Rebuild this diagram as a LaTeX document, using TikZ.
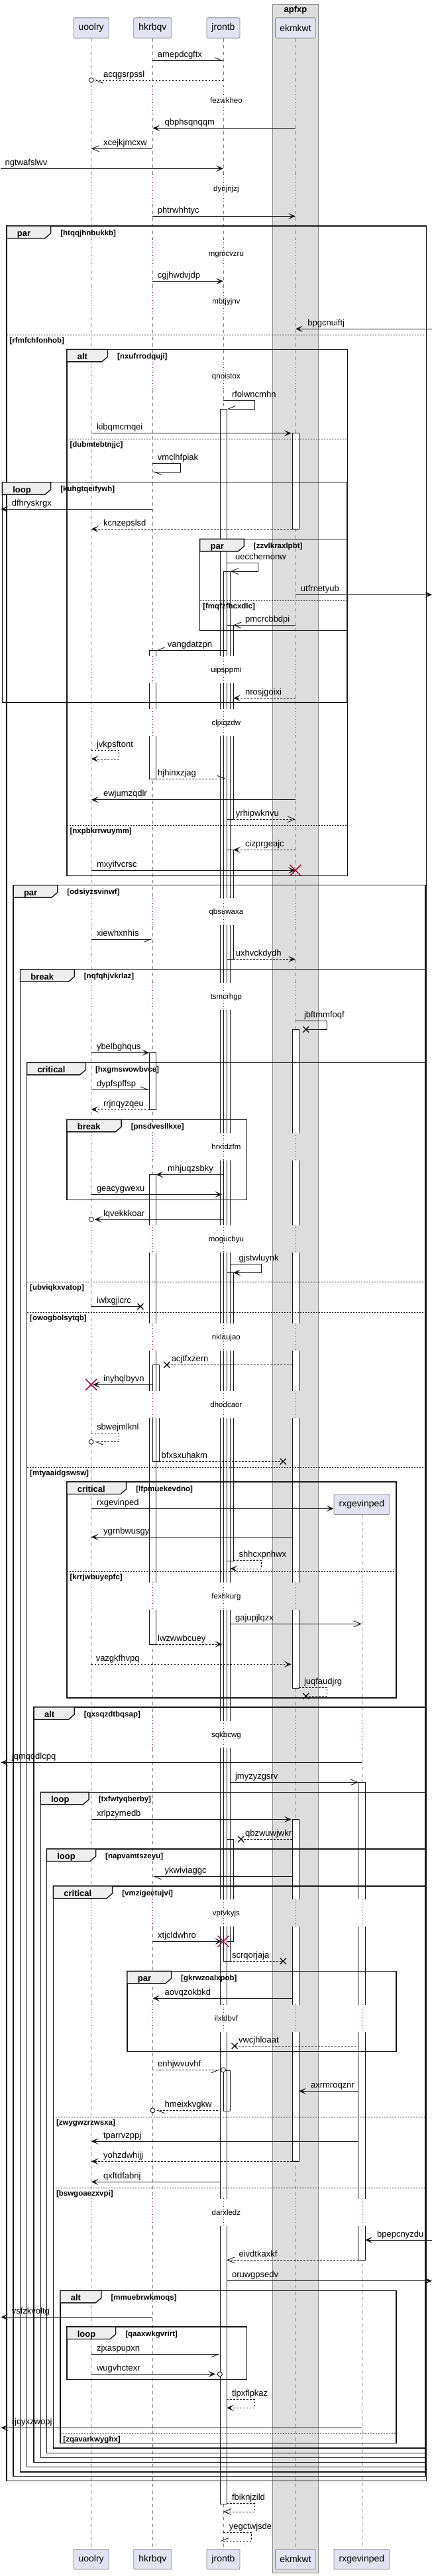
\documentclass[tikz,border=0pt]{standalone}
\usepackage{fontspec}
\setmainfont{Liberation Sans}
\usetikzlibrary{calc, positioning, arrows.meta}

\definecolor{partfill}{HTML}{E2E2F0}
\definecolor{partline}{HTML}{8A8A8A}
\definecolor{boxgrey}{HTML}{DDDDDD}
\definecolor{boxline}{HTML}{8C8C8C}
\definecolor{tabgrey}{HTML}{EEEEEE}
\definecolor{lifegrey}{HTML}{808080}
\definecolor{killred}{HTML}{A80036}
\definecolor{ink}{HTML}{181818}

\tikzset{
  part/.style={draw=partline, fill=partfill, rounded corners=2pt, line width=0.8pt,
    minimum height=30.5pt, inner sep=0pt, font=\fontsize{14}{16}\selectfont},
  boxtitle/.style={inner sep=0pt, font=\bfseries\fontsize{13}{15}\selectfont},
  lifeline/.style={draw=lifegrey, line width=0.7pt, dash pattern=on 5pt off 5pt},
  delayline/.style={draw=killred, line width=0.8pt, dash pattern=on 1pt off 3pt},
  actbar/.style={draw=ink, line width=0.8pt},
  frameline/.style={draw=ink, line width=1.4pt},
  tabshape/.style={draw=ink, fill=tabgrey, line width=1.4pt},
  kindtext/.style={anchor=base west, inner sep=0pt, font=\bfseries\fontsize{13}{15}\selectfont},
  guardtext/.style={anchor=base west, inner sep=0pt, font=\bfseries\fontsize{11.5}{13}\selectfont},
  elseline/.style={draw=ink, line width=0.8pt, dash pattern=on 2pt off 2pt},
  msgline/.style={draw=ink, line width=0.9pt},
  retline/.style={dash pattern=on 2.5pt off 2.5pt},
  msgtext/.style={anchor=base west, inner sep=0pt, font=\fontsize{13}{15}\selectfont},
  delaytext/.style={anchor=base, inner sep=0pt, font=\fontsize{11.5}{13}\selectfont},
  fulltip/.style={-{Stealth[length=11pt,width=9.5pt,inset=5.5pt]}},
  opentip/.style={-{Straight Barb[length=11pt,width=9pt]}},
  halftip/.style={-{Straight Barb[length=11pt,width=9pt,harpoon]}},
  halftipb/.style={-{Straight Barb[length=11pt,width=9pt,harpoon,swap]}},
  killx/.style={draw=killred, line width=1.5pt},
  lostx/.style={draw=ink, line width=1.4pt},
  endring/.style={draw=ink, fill=white, line width=0.9pt}
}

% message: [style]{from}{dx}{to}{dx}{y}{label}{label x}
\newcommand\sdmsg[8][]{%
  \draw[msgline,#1] ($(#2)+(#3,#6)$) -- ($(#4)+(#5,#6)$);
  \node[msgtext] (m-#7) at (#8,#6-5) {#7};}
% self message: [style]{who}{dx start}{dx right}{y1}{y2}{dx end}{label}{label x}
\newcommand\sdself[9][]{%
  \draw[msgline,#1] ($(#2)+(#3,#5)$) -- ($(#2)+(#4,#5)$) -- ($(#2)+(#4,#6)$) -- ($(#2)+(#7,#6)$);
  \node[msgtext] (m-#8) at (#9,#5-5) {#8};}
\newcommand\sdring[3]{\draw[endring] ($(#1)+(#2,#3)$) circle[radius=3.5pt];}
\newcommand\sdlost[3]{\draw[lostx] ($(#1)+(#2,#3)$) +(-4.5pt,-4.5pt) -- +(4.5pt,4.5pt) +(-4.5pt,4.5pt) -- +(4.5pt,-4.5pt);}
\newcommand\sdkill[2]{\draw[killx] ($(#1)+(0,#2)$) +(-8.5pt,-8.5pt) -- +(8.5pt,8.5pt) +(-8.5pt,8.5pt) -- +(8.5pt,-8.5pt);}
% delay: [lifelines]{y}{text}
\newcommand\sddelay[3][uo,hk,jr,ek]{%
  \foreach \p in {#1}
    \draw[delayline] ($(\p)+(0,#2-21)$) -- ($(\p)+(0,#2+21)$);
  \node[delaytext] (d-#3) at ($(jr)+(3.5,#2+4)$) {#3};}
% frame: {x1}{x2}{y1}{y2}{kind}{tab width}{guard}
\newcommand\sdframe[7]{%
  \draw[frameline] (#1,#3) rectangle (#2,#4);
  \draw[tabshape] (#1,#3) -- ++(#6,0) -- ++(0,11) -- ++(-7,7.5) -- (#1,#3+18.5) -- cycle;
  \node[kindtext] (k-#7) at (#1+12.5,#3+15.5) {#5};
  \node[guardtext] (g-#7) at (#1+#6+11.5,#3+14) {[#7]};}
\newcommand\sdelse[4]{%
  \draw[elseline] (#1,#3) -- (#2,#3);
  \node[guardtext] (g-#4) at (#1+3.5,#3+12) {[#4]};}

\def\barlist{jr/-4/617/3778.3, jr/0/862/2959.3, jr/4/943.3/1236.3, jr/4/1282.3/1447.3,
  jr/4/1920.3/2355, jr/4/2775.3/2929.3, jr/0/3124.3/3185.3,
  hk/-4/981.3/1175, hk/-4/1588.3/1674, hk/-4/1772.3/2481, hk/0/2059.3/2205.3,
  ek/-4/653.7/798.3, ek/-4/1553.3/2547, ek/-4/2745.3/3261.3, rx/-4/2689.3/3410.3}
% stretches of the lifelines between two delays
\def\spanlist{0/130, 172/263.3, 305.3/361.3, 403.3/433.3, 475.3/546.3, 588.3/989.7,
  1031.7/1069, 1111/1354.7, 1396.7/1482.3, 1524.3/1709, 1751/1848.3, 1890.3/1996.3,
  2038.3/2098.3, 2140.3/2387.3, 2429.3/2596.3, 2638.3/2865.7, 2907.7/3024,
  3066/3317.3, 3359.3/3887}

\begin{document}
\begin{tikzpicture}[x=1.25699pt, y=-1pt]
  \useasboundingbox (0,0) rectangle (518.7,3887);
  \coordinate (lft) at (1,0);
  \coordinate (uo) at (109.5,0);
  \coordinate (hk) at (183.3,0);
  \coordinate (jr) at (268.1,0);
  \coordinate (ek) at (354.8,0);
  \coordinate (rx) at (434.3,0);
  \coordinate (rgt) at (518.7,0);

  % box apfxp
  \draw[fill=boxgrey, draw=boxline, line width=0.9pt] (327.3,6) rectangle (382,3882);
  \node[boxtitle] (apfxp) at (354.8,15.5) {apfxp};

  % participants
  \node[part, minimum width=53.2pt] (uoolry-top) at ($(uo)+(0,42.1)$) {uoolry};
  \node[part, minimum width=57.3pt] (hkrbqv-top) at ($(hk)+(0,42.1)$) {hkrbqv};
  \node[part, minimum width=49.9pt] (jrontb-top) at ($(jr)+(0,42.1)$) {jrontb};
  \node[part, minimum width=60.7pt] (ekmkwt-top) at ($(ek)+(0,42.1)$) {ekmkwt};
  \node[part, minimum width=83.8pt] (rxgevinped-top) at ($(rx)+(0,2270.3)$) {rxgevinped};
  \node[part, minimum width=53.2pt] (uoolry-bot) at ($(uo)+(0,3861.7)$) {uoolry};
  \node[part, minimum width=57.3pt] (hkrbqv-bot) at ($(hk)+(0,3861.7)$) {hkrbqv};
  \node[part, minimum width=49.9pt] (jrontb-bot) at ($(jr)+(0,3861.7)$) {jrontb};
  \node[part, minimum width=60.7pt] (ekmkwt-bot) at ($(ek)+(0,3861.7)$) {ekmkwt};
  \node[part, minimum width=83.8pt] (rxgevinped-bot) at ($(rx)+(0,3861.7)$) {rxgevinped};

  % lifelines and activation bars, broken at the delays
  \foreach \ya/\yb in \spanlist {
    \begin{scope}
      \clip (0,\ya) rectangle (518.7,\yb);
      \foreach \n in {uoolry,hkrbqv,jrontb,ekmkwt,rxgevinped}
        \draw[lifeline] (\n-top) -- (\n-bot);
      \foreach \p/\dx/\yc/\yd in \barlist
        \fill[white] ($(\p)+(\dx,\yc)$) rectangle ($(\p)+(\dx+8,\yd)$);
      \foreach \p/\dx/\yc/\yd in \barlist
        \draw[actbar] ($(\p)+(\dx,\yc)$) rectangle ($(\p)+(\dx+8,\yd)$);
    \end{scope}
  }

  % delays
  \sddelay{151}{fezwkheo}
  \sddelay{284.3}{dynjnjzj}
  \sddelay{382.3}{mgmcvzru}
  \sddelay{454.3}{mbtjyjnv}
  \sddelay{567.3}{qnoistox}
  \sddelay{1010.7}{uipsppmi}
  \sddelay{1090}{cljxqzdw}
  \sddelay{1375.7}{qbsuwaxa}
  \sddelay{1503.3}{tsmcrhgp}
  \sddelay{1730}{hrxtdzfm}
  \sddelay{1869.3}{mogucbyu}
  \sddelay{2017.3}{nklaujao}
  \sddelay{2119.3}{dhodcaor}
  \sddelay[uo,hk,jr,ek,rx]{2408.3}{fexhkurg}
  \sddelay[uo,hk,jr,ek,rx]{2617.3}{sqkbcwg}
  \sddelay[uo,hk,jr,ek,rx]{2886.7}{vptvkyjs}
  \sddelay[uo,hk,jr,ek,rx]{3045}{ilxldbvf}
  \sddelay[uo,hk,jr,ek,rx]{3338.3}{darxledz}

  % frames
  \sdframe{8}{511.7}{341}{3743.3}{par}{53}{htqqjhnbukkb}
  \sdelse{8}{511.7}{505}{rfmfchfonhob}
  \sdframe{80.3}{417.3}{527.3}{1321.3}{alt}{49}{nxufrrodquji}
  \sdelse{80.3}{417.3}{662.3}{dubmtebtnjjc}
  \sdelse{80.3}{417.3}{1245.3}{nxpbkrrwuymm}
  \sdframe{2.7}{417}{727.7}{1060}{loop}{58.3}{kuhgtqeifywh}
  \sdframe{240}{417}{813.3}{951.7}{par}{53}{zzvlkraxlpbt}
  \sdelse{240}{417}{906.3}{fmqfzfhcxdlc}
  \sdframe{16}{510.7}{1335.7}{3736.7}{par}{53}{odsiyzsvinwf}
  \sdframe{24.3}{510.7}{1462.7}{3730}{break}{65}{nqfqhjvkrlaz}
  \sdframe{32.3}{510.7}{1603.3}{3722.7}{critical}{70.7}{hxgmswowbvce}
  \sdelse{32.3}{510.7}{1934.3}{ubviqkxvatop}
  \sdelse{32.3}{510.7}{1980.3}{owogbolsytqb}
  \sdelse{32.3}{510.7}{2214.3}{mtyaaidgswsw}
  \sdframe{80.3}{296.3}{1689.3}{1810.3}{break}{65.4}{pnsdvesllkxe}
  \sdframe{80.3}{475.7}{2236}{2562}{critical}{71.4}{lfpmuekevdno}
  \sdelse{80.3}{475.7}{2371.3}{krrjwbuyepfc}
  \sdframe{40.7}{510.7}{2576}{3715.7}{alt}{48.6}{qxsqzdtbqsap}
  \sdframe{48.7}{510.7}{2704.3}{3708.3}{loop}{58}{txfwtyqberby}
  \sdframe{56}{510.7}{2790}{3701.7}{loop}{59}{napvamtszeyu}
  \sdframe{64}{510.7}{2846}{3694}{critical}{71}{vmzigeetujvi}
  \sdelse{64}{510.7}{3194}{zwygwzrzwsxa}
  \sdelse{64}{510.7}{3301.3}{bswgoaezxvpi}
  \sdframe{152.7}{475.7}{2974.3}{3095.3}{par}{53}{gkrwzoalxpob}
  \sdframe{72.3}{475.7}{3456.3}{3686.7}{alt}{49.4}{mmuebrwkmoqs}
  \sdelse{72.3}{475.7}{3672.3}{zqavarkwyghx}
  \sdframe{80.3}{296.3}{3511}{3590.3}{loop}{58.7}{qaaxwkgvrirt}

  % messages
  \sdmsg[halftip]{hk}{0}{jr}{0}{91.3}{amepdcgftx}{189}
  \sdmsg[retline,halftip]{jr}{0}{uo}{4}{121}{acqgsrpssl}{124}
  \sdring{uo}{0}{121}
  \sdmsg[fulltip]{ek}{0}{hk}{0}{193.3}{qbphsqnqqm}{197.7}
  \sdmsg[opentip]{hk}{0}{uo}{0}{224.3}{xcejkjmcxw}{124}
  \sdmsg[fulltip]{lft}{0}{jr}{0}{254.3}{ngtwafslwv}{6}
  \sdmsg[fulltip]{hk}{0}{ek}{0}{326.3}{phtrwhhtyc}{189}
  \sdmsg[fulltip]{hk}{0}{jr}{0}{424.3}{cgjhwdvjdp}{189}
  \sdmsg[fulltip]{rgt}{0}{ek}{0}{496.3}{bpgcnuiftj}{369.3}
  \sdself[halftipb]{jr}{0}{37.7}{604.3}{617}{4}{rfolwncmhn}{278.3}
  \sdmsg[fulltip]{uo}{0}{ek}{-5}{653.7}{kibqmcmqei}{116}
  \sdself[halftip]{hk}{0}{33.7}{699.7}{712}{0}{vmclhfpiak}{189}
  \sdmsg[fulltip]{hk}{0}{lft}{0}{768.3}{dfhryskrgx}{14}
  \sdmsg[retline,fulltip]{ek}{-4}{uo}{0}{798.3}{kcnzepslsd}{124}
  \sdself[opentip]{jr}{4}{41.6}{849.3}{862}{8.6}{uecchemonw}{282.3}
  \sdmsg[fulltip]{ek}{0}{rgt}{0}{897.3}{utfrnetyub}{361}
  \sdmsg[opentip]{ek}{0}{jr}{12}{943.3}{pmcrcbbdpi}{294.3}
  \sdmsg[halftipb]{jr}{4}{hk}{4}{981.3}{vangdatzpn}{201}
  \sdmsg[retline,fulltip]{ek}{0}{jr}{12}{1053.3}{nrosjgoixi}{294.3}
  \sdself[retline,fulltip]{uo}{0}{33.5}{1132.3}{1145}{0}{jvkpsftont}{116}
  \sdmsg[retline,halftip]{hk}{4}{jr}{3.6}{1175}{hjhinxzjag}{189.3}
  \sdmsg[fulltip]{ek}{0}{uo}{0}{1206.7}{ewjumzqdlr}{124}
  \sdmsg[retline,opentip]{jr}{12}{ek}{0}{1236.3}{yrhipwknvu}{283}
  \sdmsg[retline,fulltip]{ek}{0}{jr}{12}{1282.3}{cizprgeajc}{294.3}
  \sdmsg[fulltip]{uo}{0}{ek}{0}{1313.3}{mxyifvcrsc}{116}
  \sdkill{ek}{1313.3}
  \sdmsg[halftipb]{uo}{0}{hk}{0}{1417}{xiewhxnhis}{116}
  \sdmsg[retline,fulltip]{jr}{12}{ek}{0}{1447.3}{uxhvckdydh}{283}
  \sdself[]{ek}{0}{37.5}{1540.3}{1553.3}{12.5}{jbftmmfoqf}{365}
  \sdlost{ek}{12.5}{1553.3}
  \sdmsg[fulltip]{uo}{0}{hk}{-4}{1588.3}{ybelbghqus}{116}
  \sdmsg[halftip]{uo}{0}{hk}{-4}{1644.3}{dypfspffsp}{116}
  \sdmsg[retline,fulltip]{hk}{-4}{uo}{0}{1674}{rrjnqyzqeu}{124}
  \sdmsg[fulltip]{jr}{0}{hk}{4}{1772.3}{mhjuqzsbky}{201.3}
  \sdmsg[fulltip]{uo}{0}{jr}{-1.3}{1802.3}{geacygwexu}{116}
  \sdmsg[fulltip]{jr}{0}{uo}{4}{1840}{lqvekkkoar}{124}
  \sdring{uo}{0}{1840}
  \sdself[fulltip]{jr}{8.3}{45.6}{1907.7}{1920.3}{12}{gjstwluynk}{286.7}
  \sdmsg[]{uo}{0}{hk}{-14.6}{1971.3}{iwlxgjicrc}{116}
  \sdlost{hk}{-14.6}{1971.3}
  \sdmsg[retline]{ek}{-4}{hk}{17}{2059.3}{acjtfxzern}{205.7}
  \sdlost{hk}{17}{2059.3}
  \sdmsg[fulltip]{hk}{0}{uo}{2}{2089.3}{inyhqlbyvn}{124}
  \sdkill{uo}{2089.3}
  \sdself[retline,halftip]{uo}{0}{33.5}{2162.7}{2175.7}{4}{sbwejmlknl}{116}
  \sdring{uo}{0}{2175.7}
  \sdmsg[retline]{hk}{8}{ek}{-14.8}{2205.3}{bfxsxuhakm}{193.7}
  \sdlost{ek}{-14.8}{2205.3}
  \draw[msgline,fulltip] ($(uo)+(0,2276.3)$) -- (rxgevinped-top.west |- 0,2276.3);
  \node[msgtext] (m-rxgevinped) at (116,2271.3) {rxgevinped};
  \sdmsg[fulltip]{ek}{-4}{uo}{0}{2319.3}{ygrnbwusgy}{124}
  \sdself[retline,fulltip]{jr}{12}{45.6}{2354.3}{2367}{8.3}{shhcxpnhwx}{286.7}
  \sdmsg[opentip]{jr}{8.3}{rx}{0}{2450.3}{gajupjlqzx}{282.3}
  \sdmsg[retline,fulltip]{hk}{4}{jr}{-1.3}{2481}{lwzwwbcuey}{189.3}
  \sdmsg[retline,fulltip]{uo}{0}{ek}{-5}{2511.3}{vazgkfhvpq}{115}
  \sdself[retline]{ek}{4}{37.5}{2546}{2559.3}{12.5}{juqfaudjrg}{365}
  \sdlost{ek}{12.5}{2559.3}
  \sdmsg[fulltip]{rx}{0}{lft}{0}{2659.3}{jqmqodlcpq}{14}
  \sdmsg[opentip]{jr}{8.3}{rx}{-4}{2689.3}{jmyzyzgsrv}{282.3}
  \sdmsg[fulltip]{uo}{0}{ek}{-5}{2745.3}{xrlpzymedb}{116}
  \sdmsg[retline]{ek}{-4}{jr}{21.2}{2775.3}{qbzwuwjwkr}{294.3}
  \sdlost{jr}{21.2}{2775.3}
  \sdmsg[halftip]{ek}{-4}{hk}{0}{2831.3}{ykwiviaggc}{197.7}
  \sdmsg[fulltip]{hk}{0}{jr}{-1.3}{2929.3}{xtjcldwhro}{189.3}
  \sdkill{jr}{2929.3}
  \sdmsg[retline]{jr}{8.3}{ek}{-14.8}{2959.3}{scrqorjaja}{278.3}
  \sdlost{ek}{-14.8}{2959.3}
  \sdmsg[fulltip]{ek}{-4}{hk}{0}{3015.3}{aovqzokbkd}{197.7}
  \sdmsg[retline]{rx}{-6.6}{jr}{13.6}{3087.3}{vwcjhloaat}{286.3}
  \sdlost{jr}{13.6}{3087.3}
  \sdmsg[retline,halftipb]{hk}{0}{jr}{-3.8}{3123.3}{enhjwvuvhf}{189.3}
  \sdring{jr}{0}{3123.3}
  \sdmsg[fulltip]{rx}{-4}{ek}{4}{3155.3}{axrmroqznr}{373}
  \sdmsg[retline,halftip]{jr}{-6.4}{hk}{4}{3184.3}{hmeixkvgkw}{197.7}
  \sdring{hk}{0}{3184.3}
  \sdmsg[fulltip]{rx}{-4}{uo}{0}{3231}{tparrvzppj}{124}
  \sdmsg[retline,fulltip]{ek}{-4}{uo}{0}{3261.3}{yohzdwhijj}{124}
  \sdmsg[fulltip]{jr}{-4}{uo}{0}{3292.3}{qxftdfabnj}{124}
  \sdmsg[fulltip]{rgt}{0}{rx}{4}{3380}{bpepcnyzdu}{452.7}
  \sdmsg[retline,opentip]{rx}{-4}{jr}{4}{3410.3}{eivdtkaxkf}{286.7}
  \sdmsg[fulltip]{jr}{4}{rgt}{0}{3441.7}{oruwgpsedv}{278.3}
  \sdmsg[fulltip]{hk}{0}{lft}{0}{3496.3}{vsfzkvoltg}{14}
  \sdmsg[halftipb]{uo}{0}{jr}{-4}{3552.3}{zjxaspupxn}{116}
  \sdmsg[fulltip]{uo}{0}{jr}{-9.4}{3582.3}{wugvhctexr}{116}
  \sdring{jr}{-4.1}{3582.3}
  \sdself[retline,fulltip]{jr}{4}{37.6}{3620.7}{3633.3}{4}{tlpxflpkaz}{278.3}
  \sdmsg[fulltip]{rx}{0}{lft}{0}{3663.3}{rjqyxzwopj}{14}
  \sdself[retline,opentip]{jr}{4}{37.6}{3777.7}{3790}{0}{fbiknjzild}{278.3}
  \sdself[retline,halftipb]{jr}{0}{33.6}{3821.3}{3834}{-4}{yegctwjsde}{275}
\end{tikzpicture}
\end{document}
